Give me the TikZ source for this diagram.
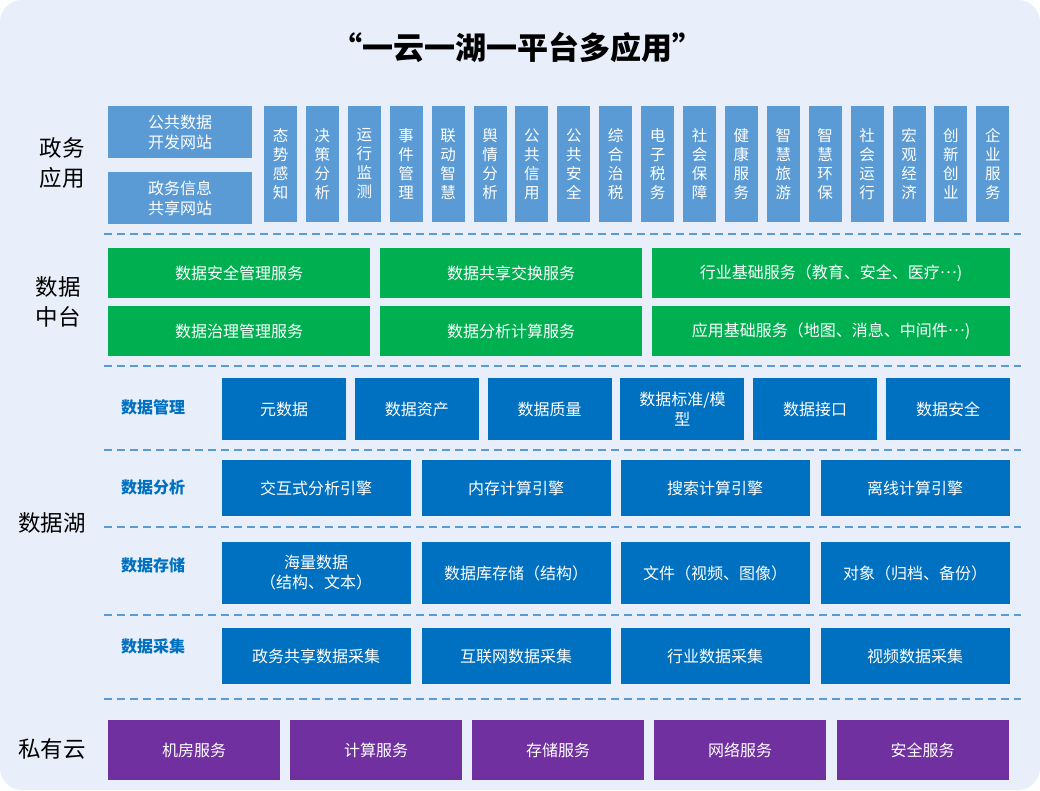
\documentclass[tikz,border=0pt]{standalone}
\usepackage{fontspec}
\setmainfont{Noto Sans CJK SC}
\usetikzlibrary{positioning}
\definecolor{pagebg}{RGB}{232,239,250}
\definecolor{appblue}{RGB}{91,155,213}
\definecolor{hubgreen}{RGB}{0,176,80}
\definecolor{lakeblue}{RGB}{0,112,192}
\definecolor{cloudpurple}{RGB}{112,48,160}
\colorlet{sepblue}{appblue}
\newcommand{\middots}{\raisebox{.33em}{…}}

\begin{document}
\begin{tikzpicture}[x=1pt,y=-1pt,
    every node/.style={inner sep=0pt,align=center,font=\fontsize{16pt}{20pt}\selectfont},
    appbox/.style={fill=appblue,text=white,minimum width=144,minimum height=52},
    vbox/.style={fill=appblue,text=white,minimum width=33,minimum height=116,font=\fontsize{15.5pt}{19pt}\selectfont},
    hubbox/.style={fill=hubgreen,text=white,minimum height=50},
    lakebox/.style={fill=lakeblue,text=white},
    cloudbox/.style={fill=cloudpurple,text=white,minimum width=172,minimum height=60},
    layer/.style={font=\fontsize{22.5pt}{30pt}\selectfont},
    sublayer/.style={text=lakeblue,font=\bfseries\fontsize{16pt}{18pt}\selectfont},
    divider/.style={sepblue,line width=2pt,dash pattern=on 8pt off 5pt}]
        \useasboundingbox (0,0) rectangle (1040,790);
        \fill[white] (0,0) rectangle (1040,790);
        \fill[pagebg,rounded corners=22pt] (0,0) rectangle (1040,790);
        \node[font=\bfseries\fontsize{31pt}{34pt}\selectfont] (title) at (517,48) {“一云一湖一平台多应用”};
        % 政务应用
        \node[layer] (app) at (62,163) {政务\\应用};
        \node[appbox] (portal1) at (180,132) {公共数据\\开发网站};
        \node[appbox] (portal2) at (180,198) {政务信息\\共享网站};
        \node[vbox] (app1) at (280.5,164) {态\\势\\感\\知};
        \node[vbox] (app2) at (322.4,164) {决\\策\\分\\析};
        \node[vbox] (app3) at (364.3,164) {运\\行\\监\\测};
        \node[vbox] (app4) at (406.2,164) {事\\件\\管\\理};
        \node[vbox] (app5) at (448.1,164) {联\\动\\智\\慧};
        \node[vbox] (app6) at (490,164) {舆\\情\\分\\析};
        \node[vbox] (app7) at (531.9,164) {公\\共\\信\\用};
        \node[vbox] (app8) at (573.8,164) {公\\共\\安\\全};
        \node[vbox] (app9) at (615.7,164) {综\\合\\治\\税};
        \node[vbox] (app10) at (657.6,164) {电\\子\\税\\务};
        \node[vbox] (app11) at (699.5,164) {社\\会\\保\\障};
        \node[vbox] (app12) at (741.4,164) {健\\康\\服\\务};
        \node[vbox] (app13) at (783.3,164) {智\\慧\\旅\\游};
        \node[vbox] (app14) at (825.2,164) {智\\慧\\环\\保};
        \node[vbox] (app15) at (867.1,164) {社\\会\\运\\行};
        \node[vbox] (app16) at (909,164) {宏\\观\\经\\济};
        \node[vbox] (app17) at (950.9,164) {创\\新\\创\\业};
        \node[vbox] (app18) at (992.8,164) {企\\业\\服\\务};
        \draw[divider] (104,234) -- (1021,234);
        % 数据中台
        \node[layer] (hub) at (58,302) {数据\\中台};
        \node[hubbox,minimum width=262] (hub1) at (239,273) {数据安全管理服务};
        \node[hubbox,minimum width=262] (hub2) at (511,273) {数据共享交换服务};
        \node[hubbox,minimum width=358] (hub3) at (831,273) {行业基础服务（教育、安全、医疗\middots)};
        \node[hubbox,minimum width=262] (hub4) at (239,331) {数据治理管理服务};
        \node[hubbox,minimum width=262] (hub5) at (511,331) {数据分析计算服务};
        \node[hubbox,minimum width=358] (hub6) at (831,331) {应用基础服务（地图、消息、中间件\middots)};
        \draw[divider] (104,366) -- (1021,366);
        % 数据湖
        \node[layer] (lake) at (52,523) {数据湖};
        \node[sublayer] (manage) at (153,407) {数据管理};
        \node[lakebox,minimum width=124,minimum height=62] (manage1) at (284,409) {元数据};
        \node[lakebox,minimum width=124,minimum height=62] (manage2) at (416.8,409) {数据资产};
        \node[lakebox,minimum width=124,minimum height=62] (manage3) at (549.6,409) {数据质量};
        \node[lakebox,minimum width=124,minimum height=62] (manage4) at (682.4,409) {数据标准/模\\型};
        \node[lakebox,minimum width=124,minimum height=62] (manage5) at (815.2,409) {数据接口};
        \node[lakebox,minimum width=124,minimum height=62] (manage6) at (948,409) {数据安全};
        \draw[divider] (104,450) -- (1021,450);
        \node[sublayer] (analyse) at (153,487) {数据分析};
        \node[lakebox,minimum width=189,minimum height=56] (analyse1) at (316,488) {交互式分析引擎};
        \node[lakebox,minimum width=189,minimum height=56] (analyse2) at (516,488) {内存计算引擎};
        \node[lakebox,minimum width=189,minimum height=56] (analyse3) at (715,488) {搜索计算引擎};
        \node[lakebox,minimum width=189,minimum height=56] (analyse4) at (915,488) {离线计算引擎};
        \draw[divider] (104,527) -- (1021,527);
        \node[sublayer] (store) at (153,565) {数据存储};
        \node[lakebox,minimum width=189,minimum height=62] (store1) at (316,573) {海量数据\\（结构、文本）};
        \node[lakebox,minimum width=189,minimum height=62] (store2) at (516,573) {数据库存储（结构）};
        \node[lakebox,minimum width=189,minimum height=62] (store3) at (715,573) {文件（视频、图像）};
        \node[lakebox,minimum width=189,minimum height=62] (store4) at (915,573) {对象（归档、备份）};
        \draw[divider] (104,615) -- (1021,615);
        \node[sublayer] (collect) at (153,646) {数据采集};
        \node[lakebox,minimum width=189,minimum height=56] (collect1) at (316,656) {政务共享数据采集};
        \node[lakebox,minimum width=189,minimum height=56] (collect2) at (516,656) {互联网数据采集};
        \node[lakebox,minimum width=189,minimum height=56] (collect3) at (715,656) {行业数据采集};
        \node[lakebox,minimum width=189,minimum height=56] (collect4) at (915,656) {视频数据采集};
        \draw[divider] (104,699) -- (1021,699);
        % 私有云
        \node[layer] (cloud) at (52,749) {私有云};
        \node[cloudbox] (cloud1) at (194,750) {机房服务};
        \node[cloudbox] (cloud2) at (376,750) {计算服务};
        \node[cloudbox] (cloud3) at (558,750) {存储服务};
        \node[cloudbox] (cloud4) at (740,750) {网络服务};
        \node[cloudbox] (cloud5) at (922.5,750) {安全服务};
      \end{tikzpicture}
\end{document}
